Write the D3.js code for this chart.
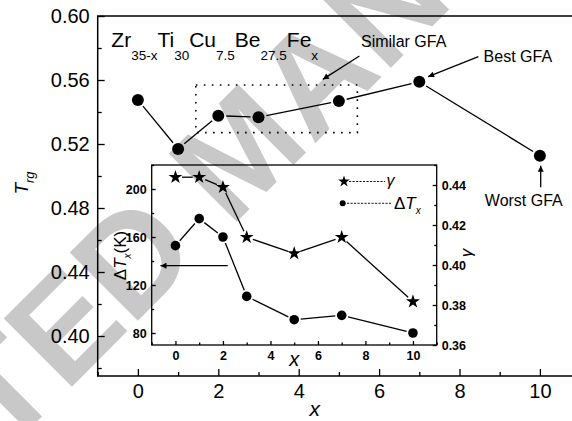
<!DOCTYPE html>
<html>
<head>
<meta charset="utf-8">
<script src="https://cdn.jsdelivr.net/npm/d3@7"></script>
<style>
  body { margin: 0; background: #fff; }
  svg { display: block; font-family: "Liberation Sans", Arial, sans-serif; }
</style>
</head>
<body>
<svg id="chart" width="572" height="421"></svg>
<script>
// main panel: T_rg vs x
var mainX = [0, 1, 2, 3, 5, 7, 10];
var trg = [0.5475, 0.5169, 0.5377, 0.5367, 0.5468, 0.5589, 0.5127];
var mainXTicks = [0, 2, 4, 6, 8, 10];
var mainXMinor = [-1, 1, 3, 5, 7, 9, 11];
var mainYTicks = [0.40, 0.44, 0.48, 0.52, 0.56, 0.60];
var mainYMinor = [0.38, 0.42, 0.46, 0.50, 0.54, 0.58];

// inset: gamma and delta Tx vs x
var insetX = [0, 1, 2, 3, 5, 7, 10];
var gamma = [0.4439, 0.4439, 0.4389, 0.4139, 0.4058, 0.4139, 0.3817];
var deltaTx = [152.8, 175.3, 160, 110.5, 91.1, 94.7, 80];
var insetXTicks = [0, 2, 4, 6, 8, 10];
var insetXMinor = [-1, 1, 3, 5, 7, 9, 11];
var insetLeftTicks = [80, 120, 160, 200];
var insetLeftMinor = [100, 140, 180, 220];
var insetRightTicks = [0.36, 0.38, 0.40, 0.42, 0.44];
var insetRightMinor = [0.37, 0.39, 0.41, 0.43, 0.45];

var svg = d3.select('#chart');

svg.append('defs').append('marker')
    .attr('id', 'arr')
    .attr('viewBox', '0 0 10 10')
    .attr('refX', 10).attr('refY', 5)
    .attr('markerWidth', 8).attr('markerHeight', 6)
    .attr('markerUnits', 'userSpaceOnUse')
    .attr('orient', 'auto')
  .append('path')
    .attr('d', 'M0,0 L10,5 L0,10 Z')
    .attr('fill', '#000');

// watermark, partly off the page like the original
svg.append('text')
    .attr('transform', 'translate(240,150) rotate(-45)')
    .attr('text-anchor', 'middle')
    .attr('dominant-baseline', 'central')
    .attr('font-size', 140)
    .attr('font-weight', 'bold')
    .attr('fill', '#c8c8c8')
    .text('ACCEPTED MANUSCRIPT');

var x = d3.scaleLinear().domain([-1, 11]).range([97.7, 580.1]);
var y = d3.scaleLinear().domain([0.375, 0.60]).range([376, 16]);

function styleAxis(g, size, weight){
    g.select('.domain').remove();
    g.selectAll('line').attr('stroke', '#000').attr('stroke-width', 1.3);
    g.selectAll('text').attr('font-size', size).attr('font-weight', weight)
        .attr('fill', '#000').attr('font-family', '"Liberation Sans", Arial, sans-serif');
}

// main axes
svg.append('g').attr('transform', 'translate(0,376)')
    .call(d3.axisBottom(x).tickValues(mainXTicks).tickSize(-7).tickPadding(8).tickFormat(d3.format('d')))
    .call(styleAxis, 20, 'normal');
svg.append('g').attr('transform', 'translate(0,376)')
    .call(d3.axisBottom(x).tickValues(mainXMinor).tickSize(-4).tickFormat(''))
    .call(styleAxis, 20, 'normal');
svg.append('g').attr('transform', 'translate(97.7,0)')
    .call(d3.axisLeft(y).tickValues(mainYTicks).tickSize(-7).tickPadding(8).tickFormat(d3.format('.2f')))
    .call(styleAxis, 20, 'normal');
svg.append('g').attr('transform', 'translate(97.7,0)')
    .call(d3.axisLeft(y).tickValues(mainYMinor).tickSize(-4).tickFormat(''))
    .call(styleAxis, 20, 'normal');

svg.append('path')
    .attr('d', 'M' + x.range()[1] + ',' + y(0.60) + 'H' + x(-1) + 'V' + y(0.375) + 'H' + x.range()[1])
    .attr('fill', 'none').attr('stroke', '#000').attr('stroke-width', 1.5);

// axis titles
svg.append('text').attr('x', x(4.4)).attr('y', 416)
    .attr('text-anchor', 'middle').attr('font-size', 21).attr('font-style', 'italic').text('x');

var trgLabel = svg.append('text').attr('transform', 'translate(28,183) rotate(-90)')
    .attr('text-anchor', 'middle').attr('font-size', 19).attr('font-style', 'italic');
trgLabel.append('tspan').text('T');
trgLabel.append('tspan').attr('font-size', 13).attr('dy', 6).text('rg');

// dotted box round similar GFA points
svg.append('rect')
    .attr('x', x(1.44)).attr('y', y(0.5569))
    .attr('width', x(5.46) - x(1.44)).attr('height', y(0.5271) - y(0.5569))
    .attr('fill', 'none').attr('stroke', '#000').attr('stroke-width', 1.6)
    .attr('stroke-dasharray', '1.6,6.4');

// connecting segments, stopped short of the markers
function segments(g, px, py, gap){
    for (var i = 0; i < px.length - 1; i++){
        var dx = px[i+1] - px[i], dy = py[i+1] - py[i];
        var len = Math.sqrt(dx*dx + dy*dy);
        var ux = dx/len, uy = dy/len;
        g.append('line')
            .attr('x1', px[i] + ux*gap).attr('y1', py[i] + uy*gap)
            .attr('x2', px[i+1] - ux*gap).attr('y2', py[i+1] - uy*gap)
            .attr('stroke', '#000').attr('stroke-width', 1.3);
    }
}

var mainG = svg.append('g');
segments(mainG, mainX.map(x), trg.map(y), 8);
mainG.selectAll('circle').data(mainX).enter().append('circle')
    .attr('cx', function(d){ return x(d); })
    .attr('cy', function(d, i){ return y(trg[i]); })
    .attr('r', 6).attr('fill', '#000');

// formula
var title = svg.append('text').attr('x', x(-0.66)).attr('y', y(0.5808)).attr('font-size', 21);
var parts = [['Zr', '35-x'], ['Ti', '30'], ['Cu', '7.5'], ['Be', '27.5'], ['Fe', 'x']];
parts.forEach(function(p, i){
    title.append('tspan').attr('dy', i == 0 ? 0 : -13).text(p[0]);
    title.append('tspan').attr('font-size', 13.5).attr('dy', 13).text(p[1]);
});

// annotations
function arrow(x1, y1, x2, y2){
    svg.append('line')
        .attr('x1', x(x1)).attr('y1', y(y1)).attr('x2', x(x2)).attr('y2', y(y2))
        .attr('stroke', '#000').attr('stroke-width', 1.3).attr('marker-end', 'url(#arr)');
}
function note(px, py, txt){
    svg.append('text').attr('x', x(px)).attr('y', y(py)).attr('font-size', 16).text(txt);
}
note(5.55, 0.5806, 'Similar GFA');
arrow(5.51, 0.575, 4.60, 0.5604);
note(8.6, 0.5713, 'Best GFA');
arrow(8.47, 0.5746, 7.22, 0.5621);
note(8.63, 0.4813, 'Worst GFA');
arrow(10.02, 0.4929, 10.02, 0.5064);

// ---------- inset ----------
var ix = d3.scaleLinear().domain([-1, 11]).range([151.7, 436.7]);
var iyL = d3.scaleLinear().domain([70, 220]).range([345, 165]);
var iyR = d3.scaleLinear().domain([0.36, 0.45]).range([345, 165]);

svg.append('g').attr('transform', 'translate(0,345)')
    .call(d3.axisBottom(ix).tickValues(insetXTicks).tickSize(-4).tickPadding(6).tickFormat(d3.format('d')))
    .call(styleAxis, 12.5, 'bold');
svg.append('g').attr('transform', 'translate(0,345)')
    .call(d3.axisBottom(ix).tickValues(insetXMinor).tickSize(-2.5).tickFormat(''))
    .call(styleAxis, 12, 'bold');
svg.append('g').attr('transform', 'translate(151.7,0)')
    .call(d3.axisLeft(iyL).tickValues(insetLeftTicks).tickSize(-4).tickPadding(5).tickFormat(d3.format('d')))
    .call(styleAxis, 12.5, 'bold');
svg.append('g').attr('transform', 'translate(151.7,0)')
    .call(d3.axisLeft(iyL).tickValues(insetLeftMinor).tickSize(-2.5).tickFormat(''))
    .call(styleAxis, 12, 'bold');
svg.append('g').attr('transform', 'translate(436.7,0)')
    .call(d3.axisRight(iyR).tickValues(insetRightTicks).tickSize(-4).tickPadding(5).tickFormat(d3.format('.2f')))
    .call(styleAxis, 12.5, 'bold');
svg.append('g').attr('transform', 'translate(436.7,0)')
    .call(d3.axisRight(iyR).tickValues(insetRightMinor).tickSize(-2.5).tickFormat(''))
    .call(styleAxis, 12, 'bold');

svg.append('rect')
    .attr('x', ix(-1)).attr('y', iyL(220))
    .attr('width', ix(11) - ix(-1)).attr('height', iyL(70) - iyL(220))
    .attr('fill', 'none').attr('stroke', '#000').attr('stroke-width', 1.3);

var star = d3.symbol().type(d3.symbolStar).size(60);
var starSmall = d3.symbol().type(d3.symbolStar).size(42);

var insetG = svg.append('g');
segments(insetG, insetX.map(ix), gamma.map(iyR), 6.5);
segments(insetG, insetX.map(ix), deltaTx.map(iyL), 6.5);
insetG.selectAll('path.star').data(insetX).enter().append('path')
    .attr('class', 'star')
    .attr('transform', function(d, i){ return 'translate(' + ix(d) + ',' + iyR(gamma[i]) + ')'; })
    .attr('d', star).attr('fill', '#000');
insetG.selectAll('circle').data(insetX).enter().append('circle')
    .attr('cx', function(d){ return ix(d); })
    .attr('cy', function(d, i){ return iyL(deltaTx[i]); })
    .attr('r', 4.8).attr('fill', '#000');

// inset arrow pointing at left axis
insetG.append('line')
    .attr('x1', ix(2.2)).attr('y1', iyL(136.1)).attr('x2', ix(-0.63)).attr('y2', iyL(136.1))
    .attr('stroke', '#000').attr('stroke-width', 1.3).attr('marker-end', 'url(#arr)');

// legend
var lg = svg.append('g');
lg.append('path').attr('transform', 'translate(344,181.5)').attr('d', starSmall).attr('fill', '#000');
lg.append('line').attr('x1', 349).attr('x2', 385).attr('y1', 181.5).attr('y2', 181.5)
    .attr('stroke', '#000').attr('stroke-width', 0.9).attr('stroke-dasharray', '2.2,1.3');
lg.append('text').attr('x', 386.5).attr('y', 186).attr('font-size', 16).attr('font-style', 'italic').text('γ');
lg.append('circle').attr('cx', 342.7).attr('cy', 203.3).attr('r', 3).attr('fill', '#000');
lg.append('line').attr('x1', 347).attr('x2', 391).attr('y1', 203.3).attr('y2', 203.3)
    .attr('stroke', '#000').attr('stroke-width', 0.9).attr('stroke-dasharray', '2.2,1.3');
var lt = lg.append('text').attr('x', 394).attr('y', 209).attr('font-size', 17);
lt.append('tspan').text('Δ');
lt.append('tspan').attr('font-style', 'italic').text('T');
lt.append('tspan').attr('font-style', 'italic').attr('font-size', 10).attr('dy', 5).text('x');

// inset axis titles
svg.append('text').attr('x', ix(5)).attr('y', 366)
    .attr('text-anchor', 'middle').attr('font-size', 20).attr('font-style', 'italic').text('x');

var dl = svg.append('text').attr('transform', 'translate(126,255.5) rotate(-90)')
    .attr('text-anchor', 'middle').attr('font-size', 17);
dl.append('tspan').text('Δ');
dl.append('tspan').attr('font-style', 'italic').text('T');
dl.append('tspan').attr('font-style', 'italic').attr('font-size', 10).attr('dy', 5).text('x');
dl.append('tspan').attr('dy', -5).text('(K)');

svg.append('text').attr('transform', 'translate(472,253) rotate(-90)')
    .attr('text-anchor', 'middle').attr('font-size', 17).attr('font-style', 'italic').text('γ');
</script>
</body>
</html>
